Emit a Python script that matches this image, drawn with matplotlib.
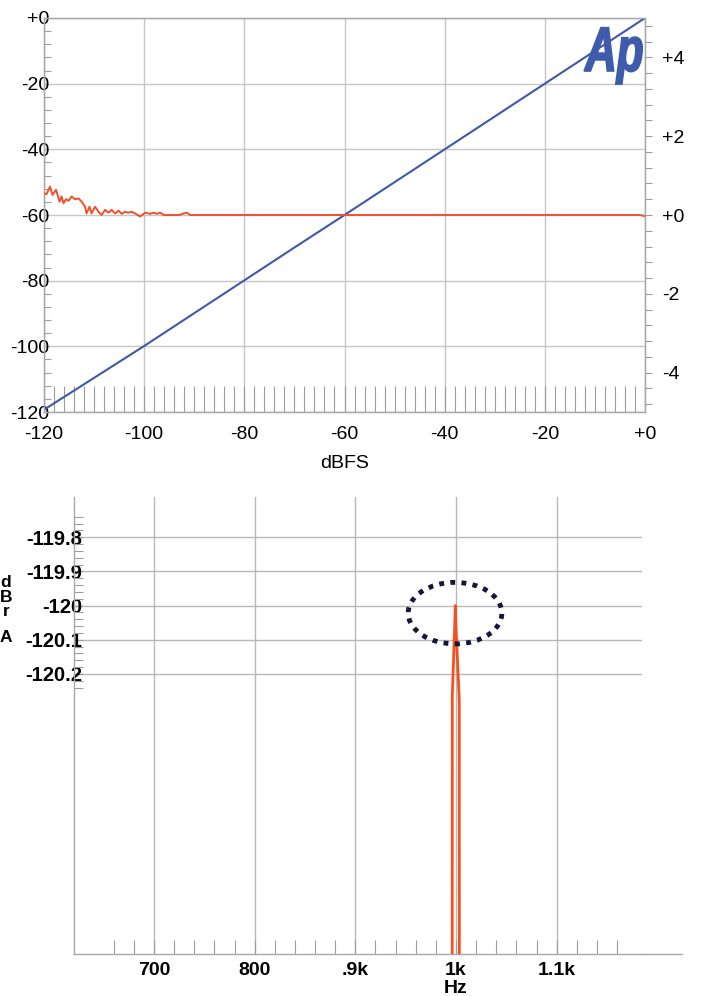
import matplotlib
matplotlib.use("Agg")
import matplotlib.pyplot as plt
from matplotlib.patches import Ellipse, PathPatch
from matplotlib.textpath import TextPath
from matplotlib.font_manager import FontProperties
from matplotlib.transforms import Affine2D
import numpy as np

plt.rcParams['font.family'] = ['Liberation Sans', 'DejaVu Sans']

# ---- top chart data (linearity) ----
blue_x = [-120, -110, -100, -90, -80, -70, -60, -50, -40, -30, -20, -10, 0]
blue_y = [-119.3, -109.6, -99.9, -89.9, -79.9, -69.9, -60, -50, -40, -30, -20, -10, 0]

# deviation (right axis, dB)
red_x = [-120, -119.5, -118.8, -118.3, -117.6, -116.9, -116.5, -116.1, -115.6, -115.1,
         -114.5, -113.8, -113.1, -112.5, -111.8, -111.5, -110.9, -110.5, -109.8, -109.1,
         -108.5, -107.8, -107.1, -106.5, -105.8, -105.1, -104.5, -103.8, -103.1, -102.5,
         -101.8, -100.8, -99.8, -98.8, -98.1, -97.5, -96.8, -96.1, -93.0, -92.1, -91.5,
         -90.8, -80, -60, -40, -20, -1, 0]
red_y = [0.55, 0.53, 0.72, 0.51, 0.64, 0.34, 0.47, 0.30, 0.40, 0.36,
         0.47, 0.40, 0.42, 0.34, 0.21, 0.04, 0.21, 0.04, 0.21, 0.08,
         0.0, 0.13, 0.06, 0.13, 0.04, 0.11, 0.03, 0.08, 0.06, 0.08,
         0.04, -0.04, 0.06, 0.03, 0.06, 0.03, 0.06, 0.0, 0.0, 0.04, 0.06,
         0.0, 0.0, 0.0, 0.0, 0.0, 0.0, -0.03]

top_xticks = [-120, -100, -80, -60, -40, -20, 0]
top_xlabels = ['-120', '-100', '-80', '-60', '-40', '-20', '+0']
top_yticks = [-120, -100, -80, -60, -40, -20, 0]
top_ylabels = ['-120', '-100', '-80', '-60', '-40', '-20', '+0']
right_yticks = [-4, -2, 0, 2, 4]
right_ylabels = ['-4', '-2', '+0', '+2', '+4']

# ---- bottom chart data (FFT near 1 kHz) ----
fft_hz = [996.2, 996.3, 998.8, 999.3, 999.8, 1003.2, 1003.3]
fft_db = [-121.1, -120.265, -120.05, -120.0, -120.05, -120.275, -121.1]

bot_xticks = [700, 800, 900, 1000, 1100]
bot_xlabels = ['700', '800', '.9k', '1k', '1.1k']
bot_yticks = [-119.8, -119.9, -120.0, -120.1, -120.2]
bot_ylabels = ['-119.8', '-119.9', '-120', '-120.1', '-120.2']

W, H = 704, 996
fig = plt.figure(figsize=(W / 100, H / 100), dpi=100)
fig.patch.set_facecolor('white')

grid_c = '#c6c6c6'
spine_c = '#a8a8a8'
tick_c = '#9c9c9c'

# ================= top chart =================
ax = fig.add_axes([44 / W, 1 - 412 / H, (645 - 44) / W, (412 - 18) / H])
ax.set_xlim(-120, 0)
ax.set_ylim(-120, 0)
for s in ax.spines.values():
    s.set_color(spine_c)
    s.set_linewidth(1)

ax.set_xticks(top_xticks)
ax.set_xticklabels(top_xlabels, fontsize=14)
ax.set_xticks(np.arange(-118, 0, 2), minor=True)
ax.tick_params(axis='x', which='both', direction='in', length=19, color=tick_c,
               width=0.8, pad=10)
ax.set_yticks(top_yticks)
ax.set_yticklabels(top_ylabels, fontsize=14)
ax.set_yticks(np.arange(-116, 0, 4), minor=True)
ax.tick_params(axis='y', which='major', length=0, pad=-4)
ax.tick_params(axis='y', which='minor', direction='in', length=5, color=tick_c, width=0.8)
for lb in ax.get_yticklabels():
    lb.set_zorder(5)
ax.grid(True, which='major', color=grid_c, lw=1)
ax.set_axisbelow(True)

ax.plot(blue_x, blue_y, color='#4158a9', lw=1.5, zorder=3)
ax.set_xlabel('dBFS', fontsize=14, labelpad=9)

ax2 = ax.twinx()
ax2.set_ylim(-5, 5)
ax2.set_yticks(right_yticks)
ax2.set_yticklabels(right_ylabels, fontsize=14)
ax2.set_yticks([v for v in np.round(np.arange(-4.8, 4.81, 0.4), 1) if v not in right_yticks],
               minor=True)
ax2.tick_params(axis='y', which='both', direction='out', length=5, color=tick_c,
                width=0.8, pad=7)
for s in ax2.spines.values():
    s.set_color(spine_c)
ax2.plot(red_x, red_y, color='#f1502c', lw=1.4, zorder=3)

# Ap logo
fp = FontProperties(family='Liberation Sans', weight='bold', style='italic')
tp = TextPath((0, 0), 'Ap', size=1, prop=fp)
tr = Affine2D().scale(0.44, 0.63).translate(5.85, (H - 71) / 100) + fig.dpi_scale_trans
fig.add_artist(PathPatch(tp, transform=tr, facecolor='#3f5bab', edgecolor='#3f5bab',
                         lw=1.2))

# ================= bottom chart =================
bx = fig.add_axes([74 / W, 1 - 954 / H, (642 - 74) / W, (954 - 497) / H])
bx.set_xlim(620.6, 1184.7)
bx.set_ylim(-121.02, -119.682)
bx.spines['top'].set_visible(False)
bx.spines['right'].set_visible(False)
for s in ('left', 'bottom'):
    bx.spines[s].set_color(spine_c)
    bx.spines[s].set_linewidth(1)

bx.set_xticks(bot_xticks)
bx.set_xticklabels(bot_xlabels, fontsize=14, fontweight='bold')
bx.set_xticks([f for f in range(660, 1180, 20) if f not in bot_xticks], minor=True)
bx.tick_params(axis='x', which='both', direction='in', length=10, color=tick_c,
               width=0.8, pad=6)
bx.set_yticks(bot_yticks)
bx.set_yticklabels(bot_ylabels, fontsize=14.5, fontweight='bold')
bx.set_yticks(np.round(np.arange(-120.24, -119.73, 0.02), 2), minor=True)
bx.tick_params(axis='y', which='both', direction='in', length=6.5, color=tick_c,
               width=0.8, pad=-6)
for lb in bx.get_yticklabels():
    lb.set_zorder(5)
bx.grid(True, which='major', color='#b8b8b8', lw=1)
bx.set_axisbelow(True)

# baseline extends beyond the plot
bx.plot([1184.7, 1224], [-121.02, -121.02], color=spine_c, lw=1, clip_on=False)

bx.plot(fft_hz, fft_db, color='#f4511e', lw=2, zorder=3)

bx.add_patch(Ellipse((999, -120.022), width=93, height=0.18, fill=False,
                     edgecolor='#15163a', lw=3.5, linestyle=(0, (1, 1.3)), zorder=4))

bx.text(1000, -121.02 - 34 / 340, 'Hz', ha='center', va='center',
        fontsize=14, fontweight='bold', clip_on=False)

# stacked unit label
for ch, ypx in zip(['d', 'B', 'r', 'A'], [582, 597, 611, 638]):
    fig.text(6 / W, 1 - ypx / H, ch, ha='center', va='center', fontsize=12.5,
             fontweight='bold')

fig.savefig('out.png', dpi=100, facecolor='white')
